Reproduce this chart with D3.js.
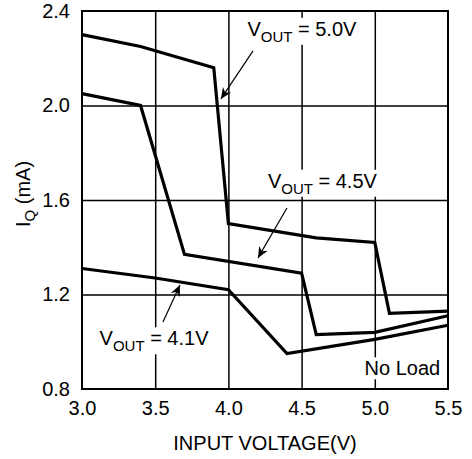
<!DOCTYPE html>
<html><head><meta charset="utf-8">
<script src="https://cdn.jsdelivr.net/npm/d3@7"></script>
<style>
html,body{margin:0;padding:0;background:#fff;}
svg{display:block;font-family:Arial,"Liberation Sans",Helvetica,sans-serif;}
</style></head>
<body>
<svg id="chart" width="472" height="459"></svg>
<script>
// ---- data ----
const xTicks = [3.0, 3.5, 4.0, 4.5, 5.0, 5.5];
const xTickLabels = ["3.0", "3.5", "4.0", "4.5", "5.0", "5.5"];
const yTicks = [0.8, 1.2, 1.6, 2.0, 2.4];
const yTickLabels = ["0.8", "1.2", "1.6", "2.0", "2.4"];

const vout50X = [3.0, 3.4, 3.9, 4.0, 4.6, 5.0, 5.1, 5.5];
const vout50Y = [2.30, 2.25, 2.16, 1.50, 1.44, 1.42, 1.12, 1.13];
const vout45X = [3.0, 3.4, 3.7, 4.5, 4.6, 5.0, 5.5];
const vout45Y = [2.05, 2.00, 1.37, 1.29, 1.03, 1.04, 1.11];
const vout41X = [3.0, 3.5, 4.0, 4.4, 5.0, 5.5];
const vout41Y = [1.31, 1.27, 1.22, 0.95, 1.01, 1.07];

const seriesNames = ["5.0V", "4.5V", "4.1V"];
// annotation anchors (data units): label start, arrow tail, arrow head
const labelX = [4.13, 4.27, 3.12];
const labelY = [2.295, 1.652, 0.985];
const arrowFromX = [4.168, 4.40, 3.553];
const arrowFromY = [2.231, 1.566, 1.084];
const arrowToX = [3.949, 4.202, 3.669];
const arrowToY = [2.028, 1.355, 1.240];
const noLoadText = "No Load";
const noLoadX = 4.93, noLoadY = 0.858;

const xTitle = "INPUT VOLTAGE(V)";

// ---- layout ----
const svg = d3.select("#chart");
const L = 82, R = 448, T = 11, B = 389;
const x = d3.scaleLinear().domain([3.0, 5.5]).range([L, R]);
const y = d3.scaleLinear().domain([0.8, 2.4]).range([B, T]);

svg.append("defs").append("marker")
  .attr("id", "ah").attr("viewBox", "0 0 10 10")
  .attr("refX", 10).attr("refY", 5)
  .attr("markerWidth", 11).attr("markerHeight", 11)
  .attr("markerUnits", "userSpaceOnUse")
  .attr("orient", "auto")
  .append("path").attr("d", "M0,0.5 L10,5 L0,9.5 L3,5 Z").attr("fill", "#000");

// grid
const gx = d3.axisBottom(x).tickValues(xTicks.slice(1, -1)).tickSize(-(B - T)).tickFormat("");
const gy = d3.axisLeft(y).tickValues(yTicks.slice(1, -1)).tickSize(-(R - L)).tickFormat("");
const gridX = svg.append("g").attr("transform", `translate(0,${B})`).call(gx);
const gridY = svg.append("g").attr("transform", `translate(${L},0)`).call(gy);
[gridX, gridY].forEach(g => {
  g.select(".domain").remove();
  g.selectAll("line").attr("stroke", "#000").attr("stroke-width", 1.5);
});

// axes labels via axes
const ax = d3.axisBottom(x).tickValues(xTicks).tickSize(0).tickPadding(12)
  .tickFormat((d, i) => xTickLabels[i]);
const ay = d3.axisLeft(y).tickValues(yTicks).tickSize(0).tickPadding(12)
  .tickFormat((d, i) => yTickLabels[i]);
const axX = svg.append("g").attr("transform", `translate(0,${B})`).call(ax);
const axY = svg.append("g").attr("transform", `translate(${L},0)`).call(ay);
[axX, axY].forEach(g => {
  g.select(".domain").remove();
  g.selectAll("text").attr("font-size", 20).attr("fill", "#000")
    .attr("font-family", "Arial, 'Liberation Sans', sans-serif");
});

// labels with white backgrounds (drawn before curves, after grid)
function voutLabel(px, py, val) {
  const g = svg.append("g");
  const t = g.append("text").attr("x", px).attr("y", py)
    .attr("font-size", 20).attr("fill", "#000");
  t.append("tspan").text("V");
  t.append("tspan").attr("font-size", 15).attr("dy", 6).text("OUT");
  t.append("tspan").attr("dy", -6).text(" = " + val);
  const bb = t.node().getBBox();
  g.insert("rect", "text").attr("x", bb.x - 2).attr("y", bb.y)
    .attr("width", bb.width + 4).attr("height", bb.height).attr("fill", "#fff");
}
seriesNames.forEach((n, i) => voutLabel(x(labelX[i]), y(labelY[i]), n));
{
  const g = svg.append("g");
  const t = g.append("text").attr("x", x(noLoadX)).attr("y", y(noLoadY))
    .attr("font-size", 20).attr("fill", "#000").text(noLoadText);
  const bb = t.node().getBBox();
  g.insert("rect", "text").attr("x", bb.x - 2).attr("y", bb.y)
    .attr("width", bb.width + 4).attr("height", bb.height).attr("fill", "#fff");
}

// frame
svg.append("rect").attr("x", L).attr("y", T).attr("width", R - L).attr("height", B - T)
  .attr("fill", "none").attr("stroke", "#000").attr("stroke-width", 2);

// curves
const line = d3.line().x(d => x(d[0])).y(d => y(d[1]));
[[vout50X, vout50Y], [vout45X, vout45Y], [vout41X, vout41Y]].forEach(([xs, ys]) => {
  svg.append("path").datum(xs.map((v, i) => [v, ys[i]]))
    .attr("d", line).attr("fill", "none").attr("stroke", "#000")
    .attr("stroke-width", 3.2).attr("stroke-linejoin", "miter");
});

// arrows
seriesNames.forEach((n, i) => {
  svg.append("line")
    .attr("x1", x(arrowFromX[i])).attr("y1", y(arrowFromY[i]))
    .attr("x2", x(arrowToX[i])).attr("y2", y(arrowToY[i]))
    .attr("stroke", "#000").attr("stroke-width", 1.2)
    .attr("marker-end", "url(#ah)");
});

// axis titles
svg.append("text").attr("x", (L + R) / 2).attr("y", 450)
  .attr("text-anchor", "middle").attr("font-size", 20).attr("fill", "#000").text(xTitle);
const yt = svg.append("text").attr("transform", `translate(30,${(T + B) / 2 - 6}) rotate(-90)`)
  .attr("text-anchor", "middle").attr("font-size", 20).attr("fill", "#000");
yt.append("tspan").text("I");
yt.append("tspan").attr("font-size", 15).attr("dy", 5).text("Q");
yt.append("tspan").attr("dy", -5).text(" (mA)");
</script>
</body></html>
